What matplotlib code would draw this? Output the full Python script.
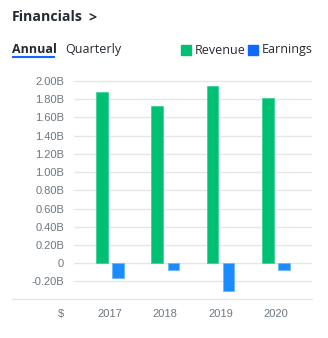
import numpy as np
import matplotlib.pyplot as plt
from matplotlib.lines import Line2D
from matplotlib.patches import Rectangle

years = ["2017", "2018", "2019", "2020"]
revenue = [1.88, 1.73, 1.945, 1.815]
earnings = [-0.16, -0.077, -0.306, -0.077]
yticks = [-0.2, 0, 0.2, 0.4, 0.6, 0.8, 1.0, 1.2, 1.4, 1.6, 1.8, 2.0]
ylabels = ["-0.20B", "0", "0.20B", "0.40B", "0.60B", "0.80B", "1.00B",
           "1.20B", "1.40B", "1.60B", "1.80B", "2.00B"]

W, H = 328, 338
green = "#00c073"
blue_bar = "#1a8cff"
blue = "#0f69ff"
dark = "#232a31"
grey = "#6e7780"
gridc = "#e4e6ea"

fig = plt.figure(figsize=(W / 100, H / 100), dpi=100)
fig.patch.set_facecolor("white")

# axes in pixel layout
left, right = 74, 312
top, bottom = 74.6, 299
ax = fig.add_axes([left / W, 1 - bottom / H, (right - left) / W, (bottom - top) / H])

x = np.arange(len(years))
bw = 0.208
off = 0.147
ax.bar(x - off, revenue, bw, color=green, edgecolor="#3fd396", linewidth=0.6, zorder=2)
ax.bar(x + off, earnings, bw, color=blue_bar, edgecolor="#6fb6ff", linewidth=0.6, zorder=2)

ax.set_xlim(-0.651, 3.653)
ax.set_ylim(-0.393, 2.07)
ax.set_yticks(yticks)
ax.set_yticklabels(ylabels)
ax.set_xticks(x)
ax.set_xticklabels(years)
ax.tick_params(axis="both", length=0, labelsize=8, labelcolor=grey)
ax.tick_params(axis="y", pad=7.2)
ax.tick_params(axis="x", pad=7)
for lab in ax.get_xticklabels() + ax.get_yticklabels():
    lab.set_fontfamily("Liberation Sans")
for s in ax.spines.values():
    s.set_visible(False)
ax.yaxis.grid(True, color=gridc, linewidth=1.0, zorder=0)
ax.set_axisbelow(True)

# bottom separator and "$" label
fig.add_artist(Line2D([12 / W, 312 / W], [1 - 299 / H, 1 - 299 / H],
                      color=gridc, linewidth=1.0))
fig.text(64 / W, 1 - 314.5 / H, "\\$", ha="right", va="center", fontsize=8,
         color=grey, family="Liberation Sans")

# header
fig.text(12 / W, 1 - 21 / H, "Financials", ha="left", va="baseline", fontsize=10.2,
         fontweight="bold", color=dark, family="Open Sans")
fig.text(88.5 / W, 1 - 21 / H, ">", ha="left", va="baseline", fontsize=10.2,
         fontweight="bold", color=dark, family="Open Sans")

# tabs
fig.text(12 / W, 1 - 52.7 / H, "Annual", ha="left", va="baseline", fontsize=9,
         fontweight="bold", color=dark, family="Open Sans")
fig.text(65.5 / W, 1 - 52.7 / H, "Quarterly", ha="left", va="baseline", fontsize=9,
         color=dark, family="Open Sans")
fig.add_artist(Line2D([12 / W, 55 / W], [1 - 56.5 / H, 1 - 56.5 / H],
                      color=blue, linewidth=1.5, solid_capstyle="butt"))

# legend
for sx, c, tx, lab in [(181, green, 195, "Revenue"), (248, blue, 262, "Earnings")]:
    fig.add_artist(Rectangle((sx / W, 1 - 54.5 / H), 10 / W, 9.5 / H,
                             transform=fig.transFigure, color=c))
    fig.text(tx / W, 1 - 53.5 / H, lab, ha="left", va="baseline", fontsize=9,
             color=dark, family="Open Sans")

fig.savefig("out.png", dpi=100)
